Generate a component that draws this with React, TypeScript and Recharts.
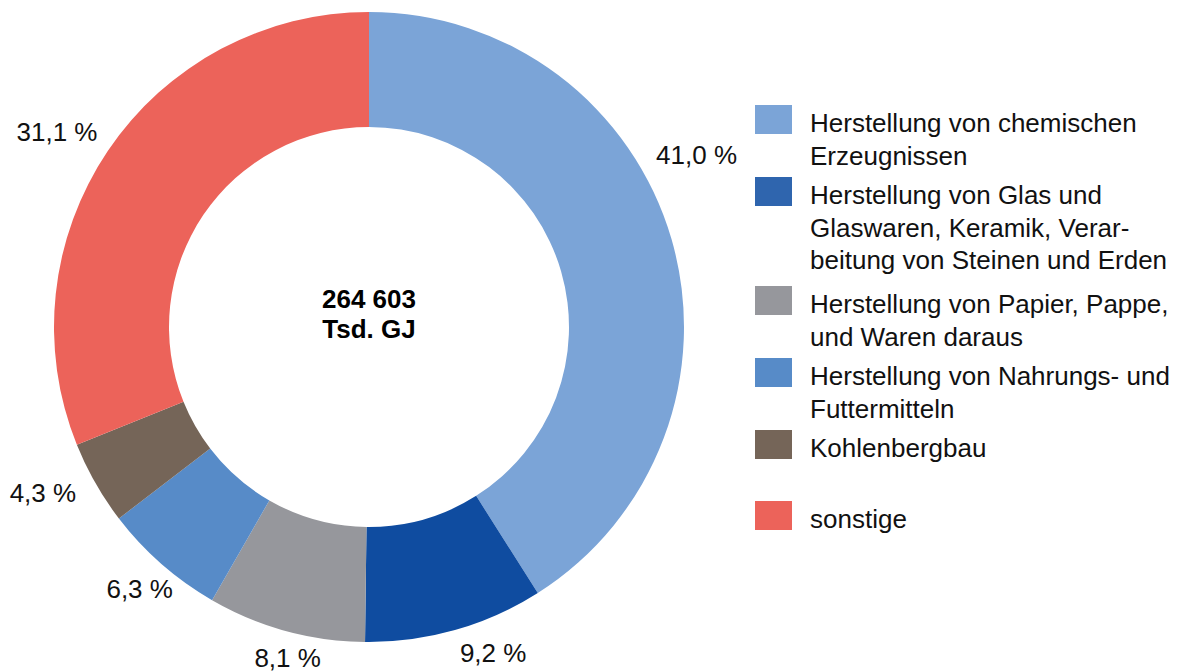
import { PieChart, Pie, Cell, Legend } from 'recharts';

const categories = [
    'Herstellung von chemischen Erzeugnissen',
    'Herstellung von Glas und Glaswaren, Keramik, Verarbeitung von Steinen und Erden',
    'Herstellung von Papier, Pappe, und Waren daraus',
    'Herstellung von Nahrungs- und Futtermitteln',
    'Kohlenbergbau',
    'sonstige',
];

// legend text as it is broken in the picture
const legendLines = [
    ['Herstellung von chemischen', 'Erzeugnissen'],
    ['Herstellung von Glas und', 'Glaswaren, Keramik, Verar-', 'beitung von Steinen und Erden'],
    ['Herstellung von Papier, Pappe,', 'und Waren daraus'],
    ['Herstellung von Nahrungs- und', 'Futtermitteln'],
    ['Kohlenbergbau'],
    ['sonstige'],
];

const shares = [41.0, 9.2, 8.1, 6.3, 4.3, 31.1];

const totalLabel = ['264 603', 'Tsd. GJ'];

const sliceColors = ['#7ba4d7', '#0f4ca0', '#96979c', '#578bc8', '#756558', '#ec635a'];
const legendColors = ['#7ba4d7', '#2f65ae', '#96979c', '#578bc8', '#756558', '#ec635a'];

const data = categories.map((name, i) => ({ name, value: shares[i] }));

const FONT = '"Liberation Sans", Arial, sans-serif';
const RAD = Math.PI / 180;

// small nudges so the labels sit where the original put them
const labelNudge = [
    { da: 11.5, dr: 55 },
    { da: 5, dr: 34 },
    { da: 1.5, dr: 26 },
    { da: 0, dr: 33 },
    { da: -2.7, dr: 51 },
    { da: 2, dr: 53 },
];

const fmt = (v: number) => v.toFixed(1).replace('.', ',') + ' %';

function renderLabel(props: any) {
    const { cx, cy, midAngle, outerRadius, index, value } = props;
    const n = labelNudge[index];
    const a = (midAngle + n.da) * RAD;
    const r = outerRadius + n.dr;
    const x = cx + r * Math.cos(a);
    const y = cy - r * Math.sin(a);
    return (
        <text x={x} y={y} textAnchor="middle" dominantBaseline="central" fill="#111" fontSize={26} fontFamily={FONT}>
            {fmt(value)}
        </text>
    );
}

function LegendBox() {
    return (
        <div style={{ fontFamily: FONT, fontSize: 26, color: '#111' }}>
            {legendLines.map((lines, i) => (
                <div key={categories[i]} style={{ display: 'flex', alignItems: 'flex-start', minHeight: i === 4 ? 71 : lines.length === 3 ? 109 : 72 }}>
                    <div style={{ width: 37, height: 29, background: legendColors[i], flexShrink: 0 }} />
                    <div style={{ marginLeft: 18, marginTop: 2, lineHeight: '32.5px' }}>
                        {lines.map(l => <div key={l} style={{ whiteSpace: 'nowrap' }}>{l}</div>)}
                    </div>
                </div>
            ))}
        </div>
    );
}

export default function App() {
    return (
        <div style={{ position: 'absolute', left: 0, top: 0, width: 1187, height: 672, background: '#fff' }}>
            <PieChart width={1187} height={672} margin={{ top: 0, right: 0, bottom: 0, left: 0 }}>
                <Pie
                    data={data}
                    dataKey="value"
                    nameKey="name"
                    cx={369}
                    cy={327}
                    innerRadius={200}
                    outerRadius={315}
                    startAngle={90}
                    endAngle={-270}
                    stroke="none"
                    label={renderLabel}
                    labelLine={false}
                    isAnimationActive={false}
                >
                    {data.map((d, i) => <Cell key={d.name} fill={sliceColors[i]} />)}
                </Pie>
                <text x={369} y={299} textAnchor="middle" dominantBaseline="central" fontSize={26} fontWeight="bold" fontFamily={FONT} fill="#000">
                    {totalLabel[0]}
                </text>
                <text x={369} y={329} textAnchor="middle" dominantBaseline="central" fontSize={26} fontWeight="bold" fontFamily={FONT} fill="#000">
                    {totalLabel[1]}
                </text>
                <Legend
                    layout="vertical"
                    content={() => <LegendBox />}
                    wrapperStyle={{ position: 'absolute', left: 755, top: 105, width: 430 }}
                />
            </PieChart>
        </div>
    );
}
